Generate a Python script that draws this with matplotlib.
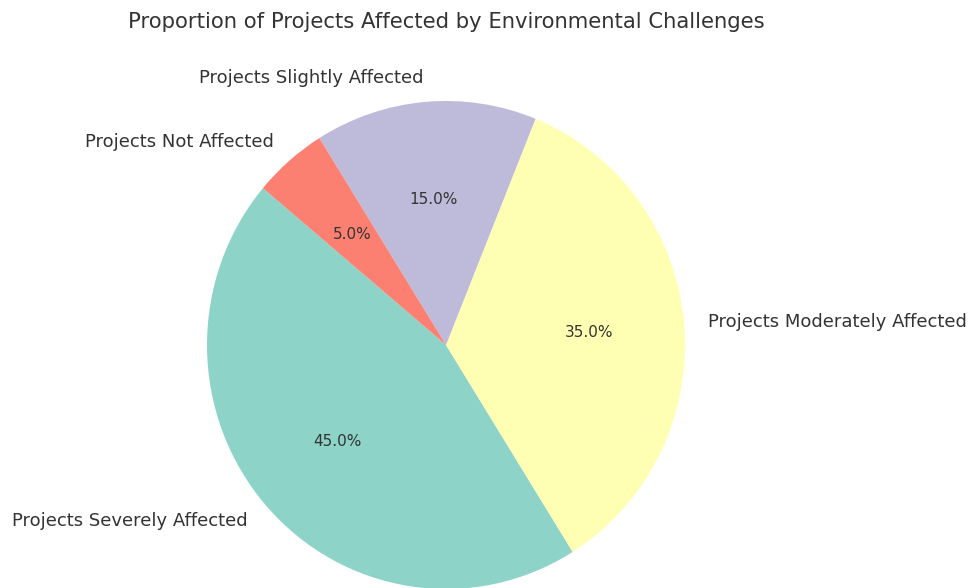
import matplotlib
matplotlib.use("Agg")
import matplotlib.pyplot as plt

categories = ["Projects Severely Affected", "Projects Moderately Affected",
              "Projects Slightly Affected", "Projects Not Affected"]
shares = [45, 35, 15, 5]
colors = ["#8dd3c7", "#ffffb3", "#bebada", "#fb8072"]

W, H = 971, 588
fig = plt.figure(figsize=(W / 100, H / 100), dpi=100)
cx, cy, rx, ry = 446, 345, 239, 244
ax = fig.add_axes([(cx - rx) / W, (H - cy - ry) / H, 2 * rx / W, 2 * ry / H])

wedges, texts, autotexts = ax.pie(
    shares, labels=categories, colors=colors, autopct="%1.1f%%",
    startangle=140, textprops={"fontsize": 13, "color": "#333333"},
)
for t in autotexts:
    t.set_fontsize(11)
ax.set_aspect("auto")
ax.set_xlim(-1, 1)
ax.set_ylim(-1, 1)

fig.text(446 / W, 1 - 22 / H, "Proportion of Projects Affected by Environmental Challenges",
         ha="center", va="center", fontsize=15.2, color="#333333")

fig.savefig("out.png", dpi=100)
